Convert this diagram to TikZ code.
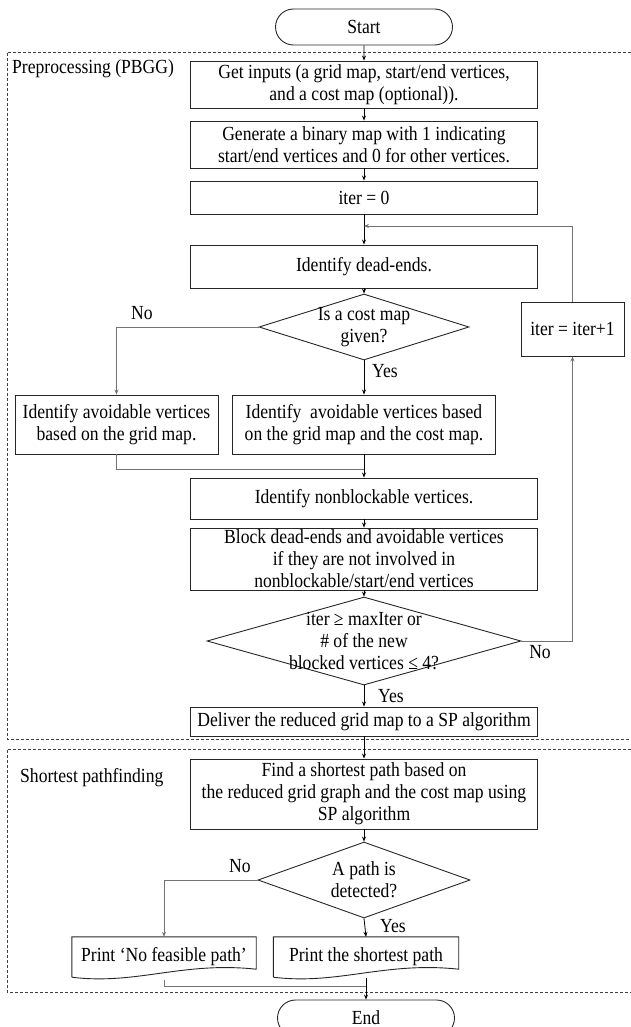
\documentclass[tikz,border=0pt]{standalone}
\usepackage{fontspec}
\setmainfont{Liberation Serif}[FakeStretch=0.88]
\usetikzlibrary{shapes.geometric,shapes.misc,arrows.meta,calc}
\begin{document}
\begin{tikzpicture}[x=1pt,y=-1pt,
  font=\fontsize{20}{22}\selectfont,
  box/.style={draw=black!85, line width=0.9pt, rectangle, inner sep=0pt, align=center, minimum width=347pt},
  term/.style={draw=black!85, line width=0.9pt, rounded rectangle, minimum width=177pt, minimum height=36pt, inner sep=0pt},
  dia/.style={draw=black!85, line width=0.9pt, diamond, inner sep=0pt},
  arr/.style={draw=black, line width=0.8pt, -{Stealth[length=5pt,width=4pt]}},
  garr/.style={draw=black!55, line width=0.8pt, -{Stealth[length=5pt,width=4pt]}},
  gline/.style={draw=black!55, line width=0.8pt},
  frame/.style={draw=black!75, line width=0.8pt, dash pattern=on 3pt off 2pt},
  lbl/.style={inner sep=0pt}
]
\useasboundingbox (0,0) rectangle (631,1027);

% frames
\draw[frame] (631,52) -- (7,52) -- (7,739) -- (631,739);
\draw[frame] (631,749) -- (7,749) -- (7,992) -- (631,992);
\node[lbl, anchor=west] (lpre) at (12,69) {Preprocessing (PBGG)};
\node[lbl, anchor=west] (lsp) at (20,778) {Shortest pathfinding};

% nodes
\node[term] (start) at (364,27) {Start};
\node[box, minimum height=47pt] (inputs) at (364,84.5) {Get inputs (a grid map, start/end vertices,\\and a cost map (optional)).};
\node[box, minimum height=47pt] (gen) at (364,144.5) {Generate a binary map with 1 indicating\\start/end vertices and 0 for other vertices.};
\node[box, minimum height=33pt] (iter0) at (364,197.5) {iter = 0};
\node[box, minimum height=43pt] (dead) at (364,266.5) {Identify dead-ends.};
\node[dia, minimum width=210pt, minimum height=66pt,
  label={[align=center,lbl]center:{Is a cost map\\given?}}] (d1) at (364,327) {};
\node[box, minimum width=103pt, minimum height=54pt] (inc) at (572.5,329) {iter = iter+1};
\node[box, minimum width=203pt, minimum height=59pt] (avL) at (116.5,424.5) {Identify avoidable vertices\\based on the grid map.};
\node[box, minimum width=263pt, minimum height=59pt] (avR) at (364,424.5) {Identify\ \ avoidable vertices based\\on the grid map and the cost map.};
\node[box, minimum height=41pt] (nonb) at (364,498.5) {Identify nonblockable vertices.};
\node[box, minimum height=62pt] (block) at (364,559) {Block dead-ends and avoidable vertices\\if they are not involved in\\nonblockable/start/end vertices};
\node[dia, minimum width=314pt, minimum height=88pt,
  label={[align=center,lbl]center:{iter ≥ maxIter or\\\# of the new\\blocked vertices ≤ 4?}}] (d2) at (364,641) {};
\node[box, minimum height=29pt] (deliver) at (364,721.5) {Deliver the reduced grid map to a SP algorithm};
\node[box, minimum height=70pt] (find) at (364,794) {Find a shortest path based on\\the reduced grid graph and the cost map using\\SP algorithm};
\node[dia, minimum width=212pt, minimum height=76pt,
  label={[align=center,lbl]center:{A path is\\detected?}}] (d3) at (364,880) {};
\node[lbl, minimum width=184pt, minimum height=40pt] (prNo) at (164,957) {Print ‘No feasible path’};
\node[lbl, minimum width=185pt, minimum height=40pt] (prYes) at (366,957) {Print the shortest path};
\node[term] (end) at (366,1018) {End};

% document shapes
\foreach \n in {prNo,prYes}{
  \draw[draw=black!85, line width=0.9pt]
    (\n.south west) -- (\n.north west) -- (\n.north east) -- ($(\n.south east)+(0,-8)$)
    .. controls ($(\n.south east)!0.4!(\n.south west)+(0,-16)$) and ($(\n.south east)!0.65!(\n.south west)+(0,8)$) .. (\n.south west);
}

% labels
\node[lbl] (no1) at (142,313) {No};
\node[lbl, anchor=west] (yes1) at (372,371) {Yes};
\node[lbl] (no2) at (540,652) {No};
\node[lbl, anchor=west] (yes2) at (378,696) {Yes};
\node[lbl] (no3) at (240,866) {No};
\node[lbl, anchor=west] (yes3) at (380,926) {Yes};

% coordinates
\coordinate (fb) at (364,226);
\coordinate (m1) at (364,469);
\coordinate (m2) at (366,986);

% connectors
\draw[arr] (start) -- (inputs);
\draw[arr] (inputs) -- (gen);
\draw[arr] (gen) -- (iter0);
\draw[arr] (iter0) -- (dead);
\draw[arr] (dead) -- (d1);
\draw[garr] (d1.west) -| (avL.north);
\draw[arr] (d1.south) -- (avR.north);
\draw[gline] (avL.south) |- (m1);
\draw[arr] (avR.south) -- (nonb.north);
\draw[arr] (nonb) -- (block);
\draw[arr] (block) -- (d2);
\draw[garr] (d2.east) -| (inc.south);
\draw[garr] (inc.north) |- (fb);
\draw[arr] (d2.south) -- (deliver.north);
\draw[arr] (deliver) -- (find);
\draw[arr] (find) -- (d3);
\draw[garr] (d3.west) -| (prNo.north);
\draw[arr] (d3.south) -- (prYes.north);
\draw[gline] ($(prNo.south)+(0,3)$) |- (m2);
\draw[arr] ($(prYes.south)+(0,1)$) -- (end.north);
\end{tikzpicture}
\end{document}
